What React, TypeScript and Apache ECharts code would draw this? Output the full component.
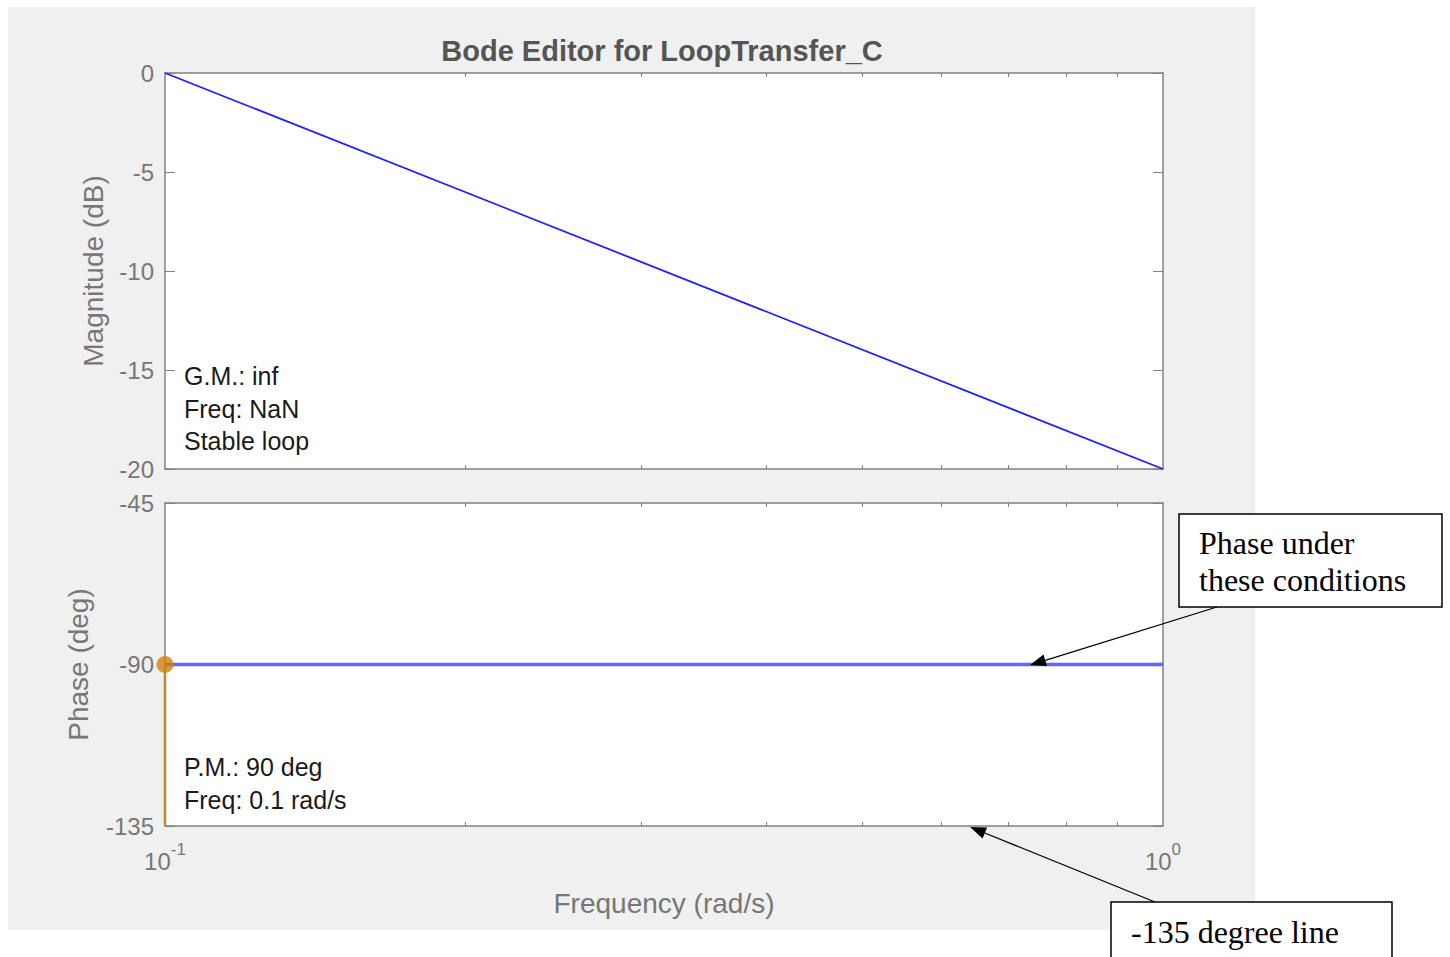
import React, { useEffect, useRef } from "react";
import * as echarts from "echarts";

// ---- data ----
const frequencies = [0.1, 1]; // rad/s
const magnitudeDb = [0, -20];
const phaseDeg = [-90, -90];
const pmFrequency = [0.1, 0.1];
const pmSegment = [-90, -135];
const pmMarkerFreq = [0.1];
const pmMarkerPhase = [-90];
const xMinorTickFreqs = [0.2, 0.3, 0.4, 0.5, 0.6, 0.7, 0.8, 0.9];
const xLabelExponents = [-1, 0];
const magRange = [-20, 0, 5]; // min, max, step
const phaseRange = [-135, -45, 45];
const gmNotes = ["G.M.: inf", "Freq: NaN", "Stable loop"];
const pmNotes = ["P.M.: 90 deg", "Freq: 0.1 rad/s"];

const axisColor = "#808080";
const labelColor = "#777777";
const sans = "Liberation Sans";

const lg = (f: number) => Math.log10(f);

function xAxisDef(gridIndex: number, position: string, withLabels: boolean) {
  return {
    type: "value",
    gridIndex,
    position,
    min: -1,
    max: 0,
    axisLine: { show: true, onZero: false, lineStyle: { color: axisColor, width: 1.5 } },
    axisTick: {
      show: true,
      inside: true,
      length: 4,
      customValues: xMinorTickFreqs.map((f) => lg(f)),
      lineStyle: { color: axisColor, width: 1 },
    },
    axisLabel: withLabels
      ? {
          show: true,
          customValues: xLabelExponents,
          margin: 15,
          formatter: (v: number) => `{b|10}{s|${v}}`,
          rich: {
            b: { fontSize: 24, fontFamily: sans, color: labelColor, padding: [8, 0, 0, 0] },
            s: { fontSize: 17, fontFamily: sans, color: labelColor, verticalAlign: "top" },
          },
        }
      : { show: false },
    splitLine: { show: false },
    name: withLabels ? "Frequency (rad/s)" : "",
    nameLocation: "middle",
    nameGap: 63,
    nameTextStyle: { fontSize: 28, fontFamily: sans, color: labelColor },
  };
}

function yAxisDef(
  gridIndex: number,
  position: string,
  range: number[],
  withLabels: boolean,
  name: string,
  nameGap: number
) {
  return {
    type: "value",
    gridIndex,
    position,
    min: range[0],
    max: range[1],
    interval: range[2],
    axisLine: { show: true, onZero: false, lineStyle: { color: axisColor, width: 1.5 } },
    axisTick: { show: true, inside: true, length: 10, lineStyle: { color: axisColor, width: 1 } },
    axisLabel: withLabels
      ? { show: true, margin: 11, fontSize: 24, fontFamily: sans, color: labelColor, padding: [3, 0, 0, 0] }
      : { show: false },
    splitLine: { show: false },
    name: withLabels ? name : "",
    nameLocation: "middle",
    nameGap,
    nameTextStyle: { fontSize: 28, fontFamily: sans, color: labelColor },
  };
}

function arrow(x1: number, y1: number, x2: number, y2: number) {
  const dx = x2 - x1;
  const dy = y2 - y1;
  const len = Math.sqrt(dx * dx + dy * dy);
  const ux = dx / len;
  const uy = dy / len;
  const hl = 16;
  const hw = 6;
  const bx = x2 - ux * hl;
  const by = y2 - uy * hl;
  const nx = -uy;
  const ny = ux;
  return [
    {
      type: "line",
      shape: { x1, y1, x2: bx, y2: by },
      style: { stroke: "#000", lineWidth: 1.3 },
      z: 50,
    },
    {
      type: "polygon",
      shape: {
        points: [
          [x2, y2],
          [bx + nx * hw, by + ny * hw],
          [bx - nx * hw, by - ny * hw],
        ],
      },
      style: { fill: "#000" },
      z: 50,
    },
  ];
}

function noteTexts(lines: string[], x: number, y0: number, step: number) {
  return lines.map((t, i) => ({
    type: "text",
    x,
    y: y0 + i * step,
    z: 40,
    style: {
      text: t,
      fontSize: 25,
      fontFamily: sans,
      fill: "#1a1a1a",
      verticalAlign: "middle",
      textAlign: "left",
    },
  }));
}

const serif = "Liberation Serif";

const option: any = {
  animation: false,
  backgroundColor: "#ffffff",
  title: {
    text: "Bode Editor for LoopTransfer_C",
    left: 657,
    top: 31,
    textAlign: "center",
    textStyle: { fontSize: 29, fontWeight: "bold", fontFamily: sans, color: "#555555" },
  },
  grid: [
    { left: 165, top: 73, width: 998, height: 396, show: true, backgroundColor: "#ffffff", borderWidth: 0 },
    { left: 165, top: 503, width: 998, height: 323, show: true, backgroundColor: "#ffffff", borderWidth: 0 },
  ],
  xAxis: [
    xAxisDef(0, "bottom", false),
    xAxisDef(0, "top", false),
    xAxisDef(1, "bottom", true),
    xAxisDef(1, "top", false),
  ],
  yAxis: [
    yAxisDef(0, "left", magRange, true, "Magnitude (dB)", 58),
    yAxisDef(0, "right", magRange, false, "", 0),
    yAxisDef(1, "left", phaseRange, true, "Phase (deg)", 73),
    yAxisDef(1, "right", phaseRange, false, "", 0),
  ],
  series: [
    {
      name: "Magnitude",
      type: "line",
      xAxisIndex: 0,
      yAxisIndex: 0,
      showSymbol: false,
      data: frequencies.map((f, i) => [lg(f), magnitudeDb[i]]),
      lineStyle: { color: "#2020ff", width: 1.8 },
    },
    {
      name: "Phase",
      type: "line",
      xAxisIndex: 2,
      yAxisIndex: 2,
      showSymbol: false,
      data: frequencies.map((f, i) => [lg(f), phaseDeg[i]]),
      lineStyle: { color: "#6464ff", width: 3.5 },
    },
    {
      name: "PM line",
      type: "line",
      xAxisIndex: 2,
      yAxisIndex: 2,
      showSymbol: false,
      clip: false,
      z: 5,
      data: pmFrequency.map((f, i) => [lg(f), pmSegment[i]]),
      lineStyle: { color: "#c0862c", width: 2.5 },
    },
    {
      name: "PM marker",
      type: "scatter",
      xAxisIndex: 2,
      yAxisIndex: 2,
      clip: false,
      z: 6,
      symbolSize: 17,
      data: pmMarkerFreq.map((f, i) => [lg(f), pmMarkerPhase[i]]),
      itemStyle: { color: "#d0830a" },
    },
  ],
  graphic: [
    {
      type: "rect",
      z: -100,
      shape: { x: 8, y: 7, width: 1247, height: 923 },
      style: { fill: "#f0f0f0" },
    },
    ...noteTexts(gmNotes, 184, 376, 32.5),
    ...noteTexts(pmNotes, 184, 767, 33),
    ...arrow(1217, 607, 1030, 665),
    ...arrow(1155, 902, 970, 827),
    {
      type: "rect",
      z: 60,
      shape: { x: 1179, y: 514, width: 263, height: 93 },
      style: { fill: "#ffffff", stroke: "#000000", lineWidth: 1.5 },
    },
    {
      type: "text",
      z: 61,
      x: 1199,
      y: 543,
      style: { text: "Phase under", fontSize: 32, fontFamily: serif, fill: "#000", verticalAlign: "middle" },
    },
    {
      type: "text",
      z: 61,
      x: 1199,
      y: 580,
      style: { text: "these conditions", fontSize: 32, fontFamily: serif, fill: "#000", verticalAlign: "middle" },
    },
    {
      type: "rect",
      z: 60,
      shape: { x: 1111, y: 902, width: 281, height: 70 },
      style: { fill: "#ffffff", stroke: "#000000", lineWidth: 1.5 },
    },
    {
      type: "text",
      z: 61,
      x: 1131,
      y: 932,
      style: { text: "-135 degree line", fontSize: 32, fontFamily: serif, fill: "#000", verticalAlign: "middle" },
    },
  ],
};

export default function App() {
  const ref = useRef<HTMLDivElement>(null);
  useEffect(() => {
    if (!ref.current) return;
    const chart = echarts.init(ref.current, null, { renderer: "svg" });
    chart.setOption(option);
    return () => chart.dispose();
  }, []);
  return (
    <div
      ref={ref}
      style={{ position: "fixed", left: 0, top: 0, width: 1450, height: 957, background: "#ffffff" }}
    />
  );
}
